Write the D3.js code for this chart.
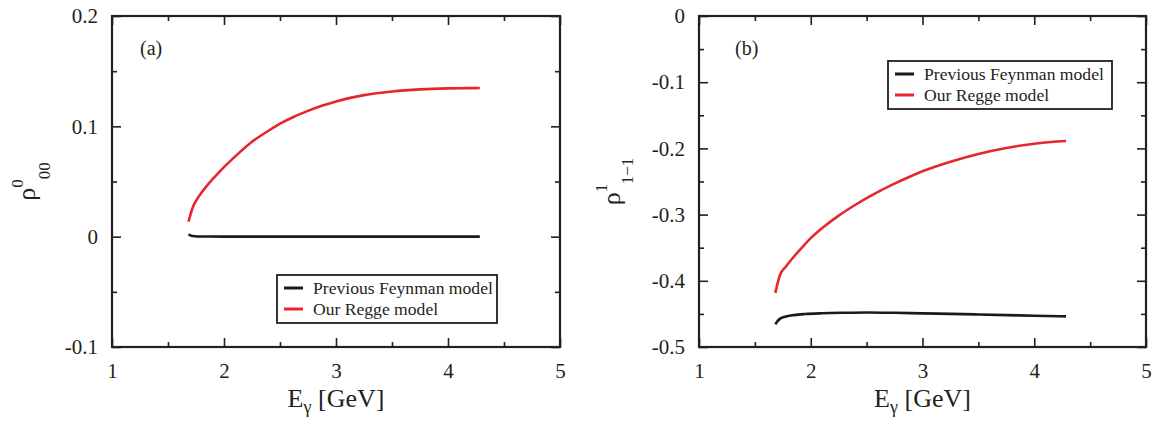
<!DOCTYPE html>
<html><head><meta charset="utf-8">
<script src="https://cdn.jsdelivr.net/npm/d3@7"></script>
<style>
body{margin:0;background:#fff}
svg{display:block}
text{font-family:"Liberation Serif","Times New Roman",serif;fill:#231f20}
</style>
</head><body>
<svg id="c" width="1158" height="423"></svg>
<script>
// ---------- data ----------
const xTickValues = [1, 2, 3, 4, 5];
const xTickLabels = ["1", "2", "3", "4", "5"];
const xMinorValues = [1.5, 2.5, 3.5, 4.5];

const yTickValuesA = [-0.1, 0, 0.1, 0.2];
const yTickLabelsA = ["-0.1", "0", "0.1", "0.2"];
const yMinorValuesA = [-0.05, 0.05, 0.15];

const yTickValuesB = [-0.5, -0.4, -0.3, -0.2, -0.1, 0];
const yTickLabelsB = ["-0.5", "-0.4", "-0.3", "-0.2", "-0.1", "0"];
const yMinorValuesB = [-0.45, -0.35, -0.25, -0.15, -0.05];

const seriesNames = ["Previous Feynman model", "Our Regge model"];

// Regge model (red) energy grid, GeV
const eRegge = [1.683, 1.723, 1.78, 1.85, 1.92, 2.0, 2.12, 2.25, 2.4, 2.5, 2.62, 2.75, 2.88, 3.0, 3.25, 3.5, 3.75, 4.0, 4.15, 4.284];
// panel (a) rho^0_00
const rho00Regge = [0.0136, 0.0271, 0.0372, 0.0465, 0.0545, 0.0630, 0.0746, 0.0860, 0.0962, 0.1024, 0.1085, 0.1140, 0.1188, 0.1226, 0.1283, 0.1316, 0.1335, 0.1344, 0.1346, 0.1347];
const eFeynA = [1.683, 1.70, 1.72, 1.76, 1.85, 2.0, 2.5, 3.0, 3.5, 4.0, 4.284];
const rho00Feyn = [0.0022, 0.0012, 0.0006, 0.0002, 0.0001, 0.0, 0.0, 0.0, 0.0, 0.0, 0.0];
// panel (b) rho^1_1-1
const rho11Regge = [-0.4182, -0.3920, -0.3780, -0.3633, -0.3500, -0.3356, -0.3181, -0.3016, -0.2851, -0.2751, -0.2641, -0.2533, -0.2432, -0.2346, -0.2201, -0.2083, -0.1993, -0.1930, -0.1904, -0.1888];
const eFeynB = [1.683, 1.70, 1.723, 1.77, 1.85, 1.95, 2.1, 2.3, 2.5, 2.75, 3.0, 3.25, 3.5, 3.75, 4.0, 4.284];
const rho11Feyn = [-0.4659, -0.4615, -0.4575, -0.4543, -0.4518, -0.4502, -0.4490, -0.4482, -0.4478, -0.4483, -0.4492, -0.4500, -0.4508, -0.4518, -0.4528, -0.4538];

// ---------- drawing ----------
const INK = "#231f20", RED = "#e8252b", BLACK = "#1a1a1a";
const svg = d3.select("#c");

function panel(cfg) {
  const x = d3.scaleLinear().domain([1, 5]).range([cfg.left, cfg.right]);
  const y = d3.scaleLinear().domain(cfg.yDomain).range([cfg.bottom, cfg.top]);
  const g = svg.append("g");

  const fmtX = d => xTickLabels[xTickValues.indexOf(d)];
  const fmtY = d => cfg.yLabels[cfg.yTicks.indexOf(d)];

  function styleAxis(sel) {
    sel.select(".domain").remove();
    sel.selectAll("line").attr("stroke", INK).attr("stroke-width", 1.6);
    sel.selectAll("text").attr("font-size", 21).attr("font-family", '"Liberation Serif","Times New Roman",serif').attr("fill", INK);
  }
  // major ticks
  g.append("g").attr("transform", `translate(0,${cfg.bottom})`)
    .call(d3.axisBottom(x).tickValues(xTickValues).tickFormat(fmtX).tickSize(-9).tickPadding(16)).call(styleAxis);
  g.append("g").attr("transform", `translate(0,${cfg.top})`)
    .call(d3.axisTop(x).tickValues(xTickValues).tickFormat("").tickSize(-9)).call(styleAxis);
  g.append("g").attr("transform", `translate(${cfg.left},0)`)
    .call(d3.axisLeft(y).tickValues(cfg.yTicks).tickFormat(fmtY).tickSize(-9).tickPadding(14)).call(styleAxis);
  g.append("g").attr("transform", `translate(${cfg.right},0)`)
    .call(d3.axisRight(y).tickValues(cfg.yTicks).tickFormat("").tickSize(-9)).call(styleAxis);
  // minor ticks
  g.append("g").attr("transform", `translate(0,${cfg.bottom})`)
    .call(d3.axisBottom(x).tickValues(xMinorValues).tickFormat("").tickSize(-5)).call(styleAxis);
  g.append("g").attr("transform", `translate(0,${cfg.top})`)
    .call(d3.axisTop(x).tickValues(xMinorValues).tickFormat("").tickSize(-5)).call(styleAxis);
  g.append("g").attr("transform", `translate(${cfg.left},0)`)
    .call(d3.axisLeft(y).tickValues(cfg.yMinor).tickFormat("").tickSize(-5)).call(styleAxis);
  g.append("g").attr("transform", `translate(${cfg.right},0)`)
    .call(d3.axisRight(y).tickValues(cfg.yMinor).tickFormat("").tickSize(-5)).call(styleAxis);

  // frame
  g.append("rect").attr("x", cfg.left).attr("y", cfg.top)
    .attr("width", cfg.right - cfg.left).attr("height", cfg.bottom - cfg.top)
    .attr("fill", "none").attr("stroke", INK).attr("stroke-width", 2.2);

  // curves
  const line = d3.line().x(d => x(d[0])).y(d => y(d[1])).curve(d3.curveMonotoneX);
  cfg.series.forEach(s => {
    g.append("path").datum(d3.zip(s.e, s.v)).attr("d", line)
      .attr("fill", "none").attr("stroke", s.color).attr("stroke-width", 2.6)
      .attr("stroke-linejoin", "round");
  });

  // panel tag
  g.append("text").attr("x", cfg.tagX).attr("y", 55).attr("font-size", 20).text(cfg.tag);

  // x title
  const cx = (cfg.left + cfg.right) / 2;
  const xt = g.append("text").attr("x", cx).attr("y", 407).attr("text-anchor", "middle").attr("font-size", 26);
  xt.append("tspan").text("E");
  xt.append("tspan").attr("font-size", 18).attr("dy", 6).text("γ");
  xt.append("tspan").attr("dy", -6).text(" [GeV]");

  // y title
  const cy = (cfg.top + cfg.bottom) / 2;
  const yt = g.append("text").attr("transform", `translate(${cfg.yTitleX},${cy}) rotate(-90)`)
    .attr("text-anchor", "middle").attr("font-size", 26);
  yt.append("tspan").text("ρ");
  yt.append("tspan").attr("font-size", 17).attr("dy", cfg.supDy).text(cfg.sup);
  yt.append("tspan").attr("font-size", 17).attr("dy", cfg.subDy - cfg.supDy).text(cfg.sub);

  // legend
  const L = cfg.legend;
  g.append("rect").attr("x", L.x).attr("y", L.y).attr("width", L.w).attr("height", L.h)
    .attr("fill", "#fff").attr("stroke", INK).attr("stroke-width", 1.8);
  cfg.series.forEach((s, i) => {
    const ly = L.y + 13 + i * 21;
    g.append("line").attr("x1", L.x + 7).attr("x2", L.x + 26).attr("y1", ly).attr("y2", ly)
      .attr("stroke", s.color).attr("stroke-width", 3);
    g.append("text").attr("x", L.x + 36).attr("y", ly).attr("dy", "0.35em")
      .attr("font-size", 17.6).text(s.name);
  });
}

panel({
  left: 112, right: 560, top: 16, bottom: 347,
  yDomain: [-0.1, 0.2], yTicks: yTickValuesA, yLabels: yTickLabelsA, yMinor: yMinorValuesA,
  tag: "(a)", tagX: 140,
  yTitleX: 35, sup: "0", sub: "00", supDy: -12, subDy: 15,
  legend: {x: 277, y: 275, w: 220, h: 48},
  series: [
    {name: seriesNames[0], e: eFeynA, v: rho00Feyn, color: BLACK},
    {name: seriesNames[1], e: eRegge, v: rho00Regge, color: RED}
  ]
});

panel({
  left: 699, right: 1146, top: 16, bottom: 347,
  yDomain: [-0.5, 0], yTicks: yTickValuesB, yLabels: yTickLabelsB, yMinor: yMinorValuesB,
  tag: "(b)", tagX: 735,
  yTitleX: 620, sup: "1", sub: "1\u22121", supDy: -13, subDy: 13,
  legend: {x: 888, y: 61, w: 224, h: 48},
  series: [
    {name: seriesNames[0], e: eFeynB, v: rho11Feyn, color: BLACK},
    {name: seriesNames[1], e: eRegge, v: rho11Regge, color: RED}
  ]
});
</script>
</body></html>
